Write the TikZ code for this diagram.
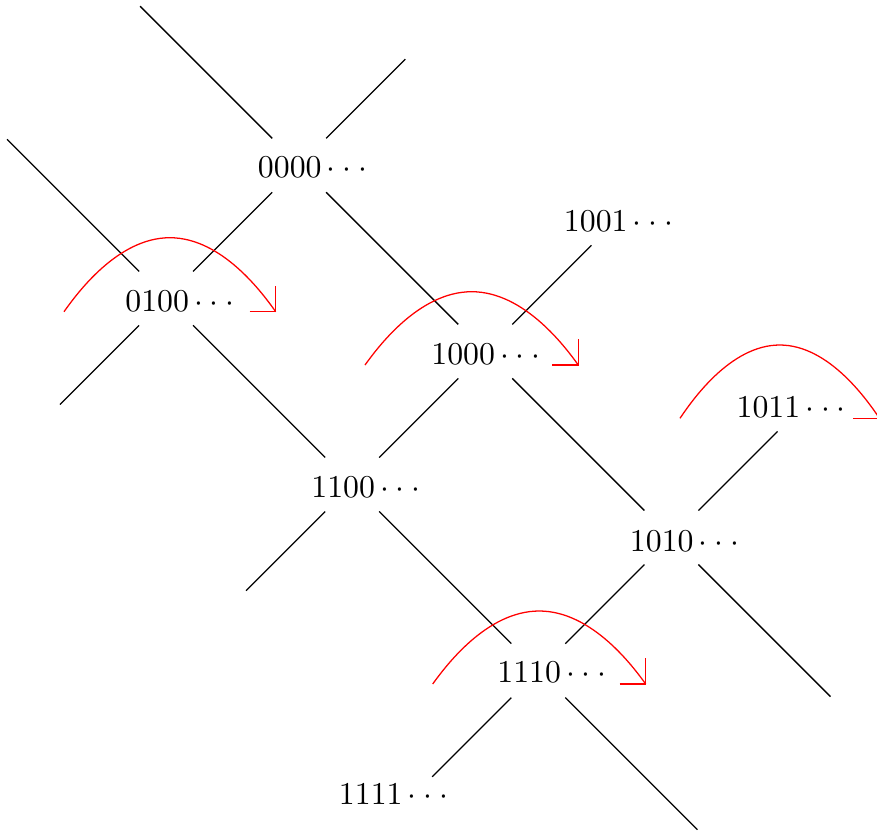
\documentclass[tikz,border=0pt]{standalone}
\newcommand{\dd}{\mkern3mu{\cdot}\mkern3.9mu{\cdot}\mkern3.9mu{\cdot}}
\begin{document}
\begin{tikzpicture}[x=0.3145pt,y=-0.3145pt,
  edge/.style={draw=black, line width=0.4pt, shorten <=12pt, shorten >=12pt},
  lab/.style={anchor=base west, inner sep=0pt, outer sep=0pt},
  swaparc/.style={draw=red, line width=0.4pt},
  barb/.style={draw=red, line width=0.4pt, line join=miter}]
\useasboundingbox (0,0) rectangle (877,832);
% branch points
\coordinate (c0000) at (299.2,165.3);
\coordinate (c0100) at (166.1,298.4);
\coordinate (c1000) at (485.3,351.4);
\coordinate (c1100) at (352.2,484.5);
\coordinate (c1001) at (618.4,218.3);
\coordinate (c1010) at (671.4,537.5);
\coordinate (c1011) at (804.5,404.4);
\coordinate (c1110) at (538.3,670.6);
\coordinate (c1111) at (405.2,803.7);
% free ends
\coordinate (e1) at (113.1,-20.8);
\coordinate (e2) at (432.3,32.2);
\coordinate (e3) at (-20,112.3);
\coordinate (e4) at (33,431.5);
\coordinate (e5) at (219.1,617.6);
\coordinate (e6) at (857.5,723.6);
\coordinate (e7) at (724.4,856.7);
% labels
\node[lab] (n0000) at (258,177.6) {$0000\dd$};
\node[lab] (n0100) at (125.4,311) {$0100\dd$};
\node[lab] (n1000) at (431.4,364.3) {$1000\dd$};
\node[lab] (n1100) at (311.4,497.6) {$1100\dd$};
\node[lab] (n1001) at (564,231) {$1001\dd$};
\node[lab] (n1010) at (630,551) {$1010\dd$};
\node[lab] (n1011) at (736.7,417.6) {$1011\dd$};
\node[lab] (n1110) at (497.4,682.6) {$1110\dd$};
\node[lab] (n1111) at (339,804.3) {$1111\dd$};
% edges
\draw[edge] (e1) -- (c0000);
\draw[edge] (c0000) -- (e2);
\draw[edge] (c0000) -- (c0100);
\draw[edge] (c0000) -- (c1000);
\draw[edge] (e3) -- (c0100);
\draw[edge] (c0100) -- (e4);
\draw[edge] (c0100) -- (c1100);
\draw[edge] (c1000) -- (c1001);
\draw[edge] (c1000) -- (c1100);
\draw[edge] (c1000) -- (c1010);
\draw[edge] (c1100) -- (e5);
\draw[edge] (c1100) -- (c1110);
\draw[edge] (c1010) -- (c1011);
\draw[edge] (c1010) -- (c1110);
\draw[edge] (c1010) -- (e6);
\draw[edge] (c1110) -- (c1111);
\draw[edge] (c1110) -- (e7);
% red swap arcs
\draw[swaparc] (64,311.7) parabola bend (169.9,237.7) (275.7,311.7);
\draw[barb] (249.7,311.7) -- (275.7,311.7) -- (275.7,285.7);
\draw[swaparc] (365,365) parabola bend (471.7,291.7) (578.3,365);
\draw[barb] (552.3,365) -- (578.3,365) -- (578.3,339);
\draw[swaparc] (432.7,684) parabola bend (539.2,611) (645.7,684);
\draw[barb] (619.7,684) -- (645.7,684) -- (645.7,658);
\draw[swaparc] (680,418.3) parabola bend (779.75,345) (879.5,418.3);
\draw[barb] (853.5,418.3) -- (879.5,418.3) -- (879.5,392.3);
\end{tikzpicture}
\end{document}
